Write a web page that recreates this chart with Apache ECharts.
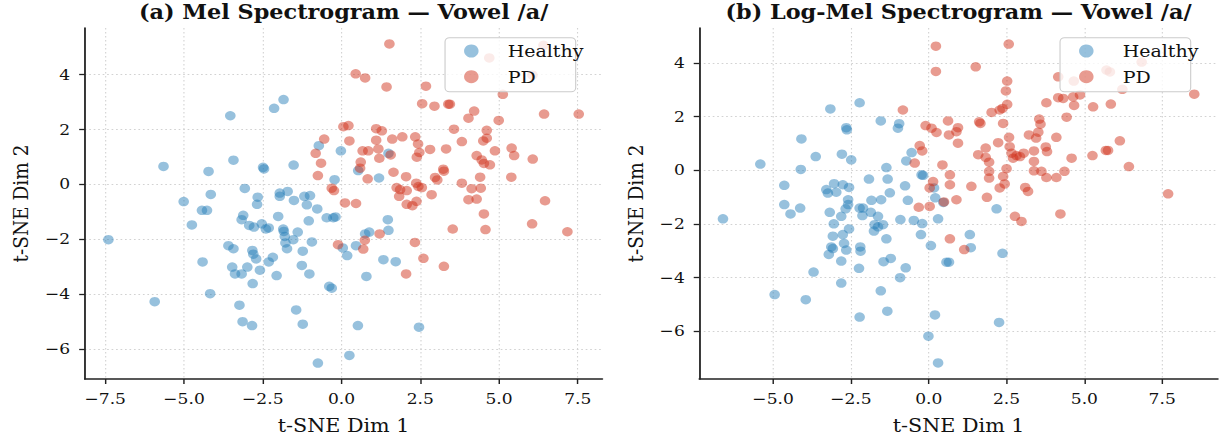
<!DOCTYPE html>
<html>
<head>
<meta charset="utf-8">
<script src="https://cdn.jsdelivr.net/npm/echarts@6/dist/echarts.min.js"></script>
<style>
  html, body { margin: 0; padding: 0; background: #ffffff; overflow: hidden; }
  /* the figure is laid out 1100px wide and widened to 1230px */
  #chart { width: 1100px; height: 440px; transform: scaleX(1.11818); transform-origin: 0 0; }
</style>
</head>
<body>
<div id="chart"></div>
<script>
// ---- data: t-SNE embeddings, [dim1, dim2] ----
const categories = ['Healthy', 'PD'];
const panelTitles = ['(a) Mel Spectrogram — Vowel /a/', '(b) Log-Mel Spectrogram — Vowel /a/'];
const xTicksMel = [-7.5, -5, -2.5, 0, 2.5, 5, 7.5];
const xTicksLog = [-5, -2.5, 0, 2.5, 5, 7.5];
const yTicksMel = [-6, -4, -2, 0, 2, 4];
const yTicksLog = [-6, -4, -2, 0, 2, 4];

const melHealthy = [
  [-1.84,3.09],[-2.14,2.77],[-3.53,2.50],[-5.65,0.65],[-4.22,0.47],[-3.43,0.88],[-2.49,0.62],[-2.46,0.56],
  [-1.52,0.70],[-0.72,1.41],[-0.02,1.22],[-0.22,0.17],
  [-5.01,-0.63],[-4.15,-0.37],[-3.07,-0.15],[-2.66,-0.47],[-2.68,-0.73],[-1.96,-0.32],[-1.96,-0.44],[-1.71,-0.26],
  [-1.51,-0.59],[-1.18,-0.44],[-1.00,-0.41],[-1.10,-0.75],[-0.77,-0.90],[-1.04,-1.33],[-0.47,-1.22],[-0.26,-1.22],[-0.19,-1.19],
  [1.49,1.13],[0.53,0.50],[1.19,0.23],
  [1.47,-1.29],[1.49,-1.68],[0.75,-1.81],[0.88,-1.74],[0.04,-2.32],[0.46,-2.24],[0.18,-2.60],[1.33,-2.75],[1.72,-2.82],
  [0.79,-3.36],[-0.39,-3.72],[-0.31,-3.79],[0.52,-5.15],[2.46,-5.21],[0.25,-6.24],
  [-4.43,-0.95],[-4.27,-0.95],[-4.75,-1.48],[-7.40,-2.02],[-2.01,-1.17],[-3.12,-1.13],[-3.17,-1.29],[-2.93,-1.50],
  [-2.78,-1.56],[-2.53,-1.44],[-2.40,-1.63],[-2.31,-1.59],[-1.85,-1.63],[-1.83,-1.72],[-1.80,-1.90],[-1.39,-1.74],
  [-1.53,-2.02],[-1.78,-2.14],[-1.73,-2.35],[-0.94,-2.10],[-1.23,-2.44],
  [-3.59,-2.24],[-3.43,-2.35],[-2.83,-2.41],[-2.80,-2.55],[-2.71,-2.72],[-2.18,-2.66],[-2.31,-2.83],[-4.41,-2.83],
  [-3.47,-3.02],[-3.38,-3.27],[-3.17,-3.27],[-2.99,-3.02],[-2.59,-3.13],[-2.06,-3.33],[-2.82,-3.62],[-1.26,-2.96],[-1.02,-3.27],
  [-4.17,-3.99],[-5.93,-4.28],[-3.24,-4.41],[-1.44,-4.58],[-3.14,-5.01],[-2.84,-5.15],[-1.23,-5.10],[-0.75,-6.52]
];

const melPD = [
  [-0.55,1.65],[-0.82,1.13],[-0.65,0.77],[-0.75,0.32],[-0.31,-0.14],[-0.24,-0.23],[0.06,2.10],[0.22,2.14],[0.25,1.58],[0.11,-0.68],
  [1.52,5.12],[0.45,4.03],[0.75,3.88],[1.43,3.55],[2.68,3.58],[4.69,4.61],[6.41,5.07],[6.06,3.98],[5.12,3.28],
  [2.56,2.94],[2.95,2.85],[3.39,2.92],[3.44,2.92],[4.21,2.67],[4.03,2.41],[4.99,2.33],[6.43,2.56],[7.53,2.56],
  [1.10,2.03],[1.28,1.95],[1.10,1.61],[1.61,1.65],[1.93,1.73],[2.34,1.73],[2.43,1.47],[3.57,2.01],[4.61,1.97],[4.61,1.68],
  [4.50,1.58],[3.82,1.56],[0.67,1.22],[0.85,1.22],[1.17,1.29],[1.20,0.95],[1.56,1.07],[2.47,1.16],[2.39,0.99],[2.81,1.27],
  [3.32,1.29],[4.29,1.05],[4.45,0.89],[4.52,0.76],[4.71,0.71],[4.87,1.22],[5.40,1.32],[5.48,1.05],[6.07,0.92],
  [0.61,0.81],[0.59,0.59],[1.65,0.44],[2.05,0.28],[3.23,0.55],[3.25,0.48],[2.97,0.25],[3.04,0.16],[0.83,0.20],[4.40,0.26],
  [5.39,0.26],[3.82,0.04],[1.75,-0.12],[1.86,-0.19],[2.07,-0.23],[2.37,0.04],[2.44,-0.08],[2.55,-0.12],[4.13,-0.16],[4.42,-0.14],
  [2.86,-0.38],[1.83,-0.44],[4.03,-0.56],[4.29,-0.54],[6.46,-0.60],[0.46,-0.70],[2.07,-0.73],[2.38,-0.62],
  [2.25,-0.78],[4.52,-1.08],[4.57,-1.65],[3.53,-1.63],[6.05,-1.44],[7.17,-1.73],[1.21,-1.81],[0.74,-2.04],[0.69,-2.36],
  [-0.11,-2.20],[2.33,-2.12],[2.60,-2.70],[3.25,-2.99],[2.05,-3.27]
];

const logHealthy = [
  [-2.22,2.52],[-3.16,2.29],[-1.54,1.84],[-0.95,1.74],[-0.99,1.57],[-2.65,1.59],[-2.63,1.51],[-4.09,1.17],[-3.63,0.51],
  [-2.79,0.60],[-2.49,0.39],[-5.41,0.23],[-4.11,0.03],[-0.55,0.66],[-0.72,0.35],[-1.36,0.10],[-0.23,-0.17],[-0.18,-0.19],
  [-1.92,-0.33],[-1.32,-0.33],[-4.64,-0.56],[-3.04,-0.50],[-2.76,-0.54],[-2.56,-0.64],[-3.29,-0.72],[-3.24,-0.85],[-2.97,-0.82],
  [-0.76,-0.58],[-1.25,-0.84],[0.17,-0.66],[0.21,-1.03],[-2.59,-1.10],[-1.84,-1.12],[-1.53,-1.10],[-0.67,-1.12],
  [-4.64,-1.28],[-4.44,-1.63],[-4.13,-1.41],[-6.61,-1.81],[-3.18,-1.57],[-2.59,-1.28],[-2.67,-1.44],[-2.81,-1.72],[-3.05,-2.00],
  [-2.22,-1.41],[-2.11,-1.41],[-2.13,-1.69],[-1.86,-1.57],[-1.63,-1.72],[-2.56,-2.19],[-2.76,-2.40],[-3.08,-2.46],[-2.72,-2.73],
  [-2.65,-2.98],[-3.13,-2.86],[-3.08,-2.92],[-3.21,-3.14],[-2.81,-3.39],[-1.74,-2.03],[-1.63,-2.11],[-1.47,-2.03],[-1.76,-2.27],
  [-1.36,-2.56],[-2.20,-2.86],[-2.19,-3.02],[-2.24,-3.66],[-1.45,-3.41],[-1.22,-3.29],[-0.74,-3.64],[-0.92,-4.01],
  [-0.91,-1.84],[-0.48,-1.87],[-0.21,-1.99],[-0.25,-2.40],[0.07,-2.81],[0.30,-1.81],[-3.70,-3.80],[-2.81,-4.21],[-4.95,-4.64],
  [-3.95,-4.83],[-1.54,-4.50],[-2.22,-5.48],[-1.33,-5.26],[0.20,-5.40],[-0.01,-6.19],[0.30,-7.19],[0.57,-3.43],[0.65,-3.43],
  [2.18,-1.44],[1.32,-2.40],[1.35,-2.89],[2.37,-3.10],[2.26,-5.68],[0.47,-1.20]
];

const logPD = [
  [0.23,4.63],[0.23,3.69],[-0.83,2.25],[-0.10,1.67],[0.09,1.57],[0.25,1.41],[0.62,1.84],[0.65,1.32],[0.89,1.44],[0.94,1.59],
  [0.94,1.01],[-0.29,0.92],[-0.21,0.72],[-0.45,0.27],[0.44,0.20],[0.68,-0.17],[0.68,-0.54],[0.14,-0.42],[0.03,-0.66],
  [0.49,-1.18],[0.89,-1.10],[-0.32,-1.38],[0.03,-1.35],[0.68,-2.56],[1.14,-2.96],
  [2.57,4.71],[1.51,3.86],[5.71,3.74],[5.82,3.67],[6.84,4.04],[4.16,3.49],[4.66,3.33],[2.52,3.33],[2.48,2.96],[2.52,2.46],
  [6.22,3.02],[8.53,2.84],[3.78,2.52],[4.16,2.71],[4.32,2.68],[4.64,2.74],[4.86,2.81],[4.67,2.42],[5.28,2.37],[5.85,2.47],
  [2.02,2.16],[2.28,2.25],[2.37,2.31],[1.62,1.81],[1.66,1.75],[2.39,1.75],[3.55,1.91],[3.59,1.72],[4.43,1.98],
  [2.58,1.23],[2.23,1.03],[3.22,1.32],[3.45,1.20],[3.52,1.42],[4.10,1.23],[6.14,1.10],[1.59,0.58],[1.83,0.83],[1.83,0.48],
  [1.94,0.30],[2.60,0.88],[2.66,0.64],[2.82,0.55],[3.05,0.64],[3.38,0.72],[3.76,0.87],[3.80,0.70],[4.59,0.45],[5.26,0.55],
  [5.69,0.74],[5.76,0.74],[6.43,0.14],[7.69,-0.88],[1.37,-0.60],[1.87,-1.01],[1.94,-0.04],[1.94,-0.29],[2.39,-0.23],
  [2.44,-0.51],[2.50,0.06],[2.71,0.45],[2.93,0.51],[2.28,-0.66],[3.10,-0.64],[3.19,-0.79],[3.38,0.33],[3.38,-0.02],
  [3.62,-0.04],[3.78,-0.27],[4.10,-0.27],[4.36,-0.04],[2.77,-1.72],[2.98,-1.91],[4.23,-1.63]
];

// ---- styling ----
const FONT = 'DejaVu Serif';
const COLORS = { Healthy: 'rgba(37,125,183,0.6)', PD: 'rgba(207,47,23,0.6)' };
const minus = s => s.replace('-', '\u2212');

function xAxisFor(gridIndex, min, max, ticks) {
  return {
    type: 'value', gridIndex, min, max,
    name: 't-SNE Dim 1', nameLocation: 'middle', nameGap: 37,
    nameTextStyle: { fontFamily: FONT, fontSize: 18.5, color: '#111' },
    axisLine: { show: true, onZero: false, lineStyle: { color: '#222', width: 1.6 } },
    axisTick: { show: true, length: 5, customValues: ticks, lineStyle: { color: '#222', width: 1.3 } },
    axisLabel: { customValues: ticks, margin: 12, fontFamily: FONT, fontSize: 15.3, color: '#111',
                 formatter: v => minus(Number(v).toFixed(1)) },
    splitLine: { show: true, lineStyle: { color: '#d2d2d2', width: 1, type: [1.5, 2.5] } }
  };
}
function yAxisFor(gridIndex, min, max, ticks) {
  return {
    type: 'value', gridIndex, min, max,
    name: 't-SNE Dim 2', nameLocation: 'middle', nameGap: 47, nameRotate: 90,
    nameTextStyle: { fontFamily: FONT, fontSize: 18.5, color: '#111' },
    axisLine: { show: true, onZero: false, lineStyle: { color: '#222', width: 1.6 } },
    axisTick: { show: true, length: 5, customValues: ticks, lineStyle: { color: '#222', width: 1.3 } },
    axisLabel: { customValues: ticks, margin: 13, fontFamily: FONT, fontSize: 15.3, color: '#111',
                 formatter: v => minus(String(Math.round(v))) },
    splitLine: { show: true, lineStyle: { color: '#d2d2d2', width: 1, type: [1.5, 2.5] } }
  };
}
function scatter(name, data, idx) {
  return {
    type: 'scatter', name, data, xAxisIndex: idx, yAxisIndex: idx,
    symbol: 'circle', symbolSize: 9.5,
    itemStyle: { color: COLORS[name], borderWidth: 0 },
    emphasis: { disabled: true }
  };
}
function legendAt(left) {
  return {
    orient: 'vertical', left, top: 37.7, data: categories,
    icon: 'circle', itemWidth: 13, itemHeight: 13, itemGap: 8.7,
    padding: [4.8, -7, 6.5, 17],
    backgroundColor: 'rgba(255,255,255,0.8)', borderColor: '#cccccc', borderWidth: 1, borderRadius: 4,
    textStyle: { fontFamily: FONT, fontSize: 17, color: '#111', lineHeight: 17, padding: [0, 0, 0, 21] },
    selectedMode: false
  };
}

const chart = echarts.init(document.getElementById('chart'), null, { renderer: 'svg' });
chart.setOption({
  animation: false,
  backgroundColor: '#ffffff',
  title: [
    { text: panelTitles[0], left: 307.3, top: 2, textAlign: 'center', padding: 0,
      textStyle: { fontFamily: FONT, fontWeight: 'bold', fontSize: 20, color: '#111' } },
    { text: panelTitles[1], left: 857.2, top: 2, textAlign: 'center', padding: 0,
      textStyle: { fontFamily: FONT, fontWeight: 'bold', fontSize: 20, color: '#111' } }
  ],
  legend: [legendAt(398), legendAt(948)],
  grid: [
    { left: 75.8, top: 28, width: 462.9, height: 352 },
    { left: 625.4, top: 28, width: 463.8, height: 352 }
  ],
  xAxis: [xAxisFor(0, -8.15, 8.28, xTicksMel), xAxisFor(1, -7.37, 9.29, xTicksLog)],
  yAxis: [yAxisFor(0, -7.10, 5.70, yTicksMel), yAxisFor(1, -7.79, 5.31, yTicksLog)],
  series: [
    scatter('Healthy', melHealthy, 0), scatter('PD', melPD, 0),
    scatter('Healthy', logHealthy, 1), scatter('PD', logPD, 1)
  ]
});
</script>
</body>
</html>
